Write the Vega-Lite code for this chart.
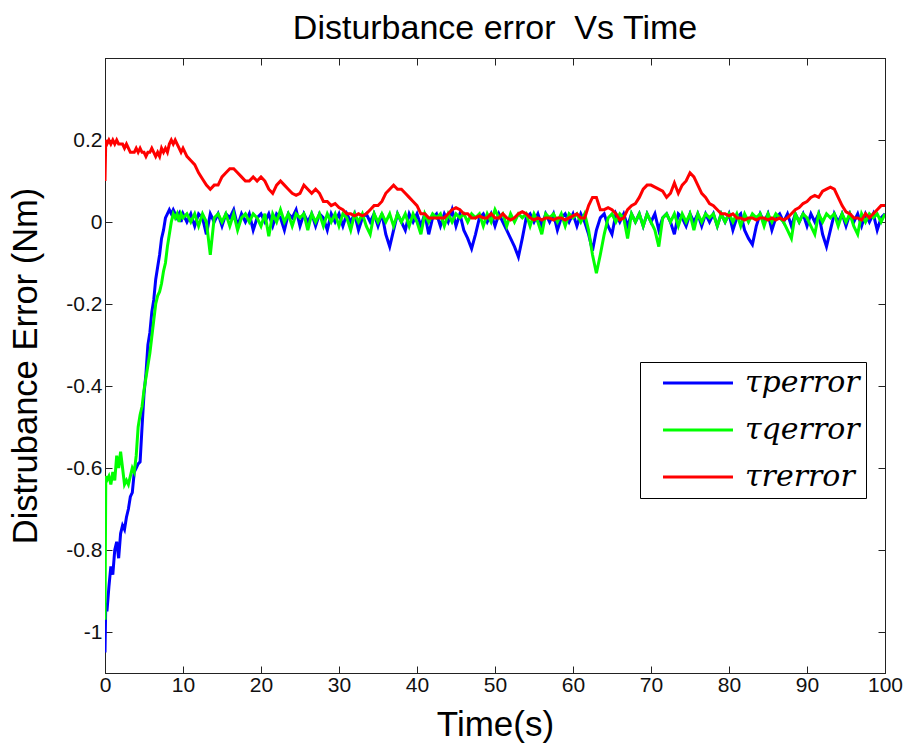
{
  "$schema": "https://vega.github.io/schema/vega-lite/v6.json",
  "width": 780,
  "height": 615,
  "autosize": {"type": "none"},
  "padding": {"left": 105, "top": 58, "right": 24, "bottom": 79},
  "background": "white",
  "title": {"text": "Disturbance error \u00a0Vs Time", "font": "Liberation Sans", "fontSize": 34, "fontWeight": "normal", "color": "black", "offset": 12},
  "config": {
    "view": {"stroke": "black", "strokeWidth": 1},
    "axis": {"grid": false, "domainColor": "#222", "tickColor": "#222", "labelColor": "#111", "labelFont": "Liberation Sans", "labelFontSize": 21, "titleFont": "Liberation Sans", "titleFontWeight": "normal", "titleColor": "black", "tickSize": -7, "domain": true}
  },
  "data": {"values": [
    {"t":0,"p":-1.05,"q":-0.97,"r":0.10},
    {"t":0.1,"p":-0.93,"q":-0.62,"r":0.20},
    {"t":0.25,"p":-0.95,"q":-0.63,"r":0.19},
    {"t":0.5,"p":-0.89,"q":-0.62,"r":0.20},
    {"t":0.75,"p":-0.84,"q":-0.64,"r":0.19},
    {"t":1.0,"p":-0.86,"q":-0.61,"r":0.20},
    {"t":1.25,"p":-0.80,"q":-0.63,"r":0.19},
    {"t":1.5,"p":-0.78,"q":-0.57,"r":0.20},
    {"t":1.75,"p":-0.82,"q":-0.60,"r":0.19},
    {"t":2.0,"p":-0.76,"q":-0.56,"r":0.19},
    {"t":2.25,"p":-0.74,"q":-0.60,"r":0.19},
    {"t":2.5,"p":-0.75,"q":-0.64,"r":0.18},
    {"t":2.75,"p":-0.72,"q":-0.63,"r":0.19},
    {"t":3.0,"p":-0.70,"q":-0.64,"r":0.18},
    {"t":3.25,"p":-0.67,"q":-0.62,"r":0.17},
    {"t":3.5,"p":-0.66,"q":-0.60,"r":0.17},
    {"t":3.75,"p":-0.61,"q":-0.61,"r":0.17},
    {"t":4.0,"p":-0.60,"q":-0.57,"r":0.18},
    {"t":4.25,"p":-0.59,"q":-0.50,"r":0.17},
    {"t":4.5,"p":-0.585,"q":-0.47,"r":0.18},
    {"t":4.75,"p":-0.50,"q":-0.45,"r":0.17},
    {"t":5.0,"p":-0.42,"q":-0.41,"r":0.17},
    {"t":5.25,"p":-0.37,"q":-0.38,"r":0.16},
    {"t":5.5,"p":-0.30,"q":-0.35,"r":0.17},
    {"t":5.75,"p":-0.27,"q":-0.32,"r":0.17},
    {"t":6.0,"p":-0.22,"q":-0.28,"r":0.18},
    {"t":6.25,"p":-0.19,"q":-0.24,"r":0.17},
    {"t":6.5,"p":-0.14,"q":-0.20,"r":0.16},
    {"t":6.75,"p":-0.11,"q":-0.18,"r":0.17},
    {"t":7.0,"p":-0.08,"q":-0.17,"r":0.16},
    {"t":7.25,"p":-0.04,"q":-0.15,"r":0.18},
    {"t":7.5,"p":-0.02,"q":-0.12,"r":0.17},
    {"t":7.75,"p":0.01,"q":-0.10,"r":0.18},
    {"t":8.0,"p":0.02,"q":-0.06,"r":0.17},
    {"t":8.25,"p":0.03,"q":-0.03,"r":0.19},
    {"t":8.5,"p":0.02,"q":0.00,"r":0.20},
    {"t":8.75,"p":0.03,"q":0.02,"r":0.19},
    {"t":9.0,"p":0.02,"q":0.01,"r":0.20},
    {"t":9.25,"p":0.01,"q":0.02,"r":0.19},
    {"t":9.5,"p":0.02,"q":0.00,"r":0.18},
    {"t":9.75,"p":0.00,"q":0.02,"r":0.17},
    {"t":10,"p":0.02,"q":0.01,"r":0.18},
    {"t":10.5,"p":0.00,"q":0.02,"r":0.16},
    {"t":11,"p":0.02,"q":0.00,"r":0.15},
    {"t":11.5,"p":-0.01,"q":0.02,"r":0.14},
    {"t":12,"p":0.02,"q":-0.01,"r":0.12},
    {"t":12.5,"p":0.01,"q":0.02,"r":0.105},
    {"t":13,"p":-0.03,"q":0.00,"r":0.09},
    {"t":13.5,"p":0.02,"q":-0.08,"r":0.08},
    {"t":14,"p":0.00,"q":0.01,"r":0.09},
    {"t":14.5,"p":0.02,"q":0.02,"r":0.09},
    {"t":15,"p":-0.01,"q":0.00,"r":0.11},
    {"t":15.5,"p":0.02,"q":0.02,"r":0.12},
    {"t":16,"p":0.01,"q":-0.01,"r":0.13},
    {"t":16.5,"p":0.03,"q":0.02,"r":0.13},
    {"t":17,"p":-0.01,"q":-0.02,"r":0.12},
    {"t":17.5,"p":0.02,"q":0.01,"r":0.11},
    {"t":18,"p":0.00,"q":0.02,"r":0.10},
    {"t":18.5,"p":0.02,"q":0.00,"r":0.10},
    {"t":19,"p":-0.02,"q":0.02,"r":0.11},
    {"t":19.5,"p":0.01,"q":0.01,"r":0.10},
    {"t":20,"p":0.02,"q":-0.01,"r":0.11},
    {"t":20.5,"p":0.00,"q":0.02,"r":0.10},
    {"t":21,"p":0.02,"q":-0.035,"r":0.08},
    {"t":21.5,"p":-0.01,"q":0.02,"r":0.07},
    {"t":22,"p":0.02,"q":0.00,"r":0.09},
    {"t":22.5,"p":0.01,"q":0.03,"r":0.10},
    {"t":23,"p":-0.02,"q":0.00,"r":0.09},
    {"t":23.5,"p":0.02,"q":0.02,"r":0.08},
    {"t":24,"p":0.01,"q":-0.01,"r":0.07},
    {"t":24.5,"p":0.03,"q":0.02,"r":0.065},
    {"t":25,"p":-0.01,"q":0.01,"r":0.07},
    {"t":25.5,"p":0.02,"q":0.02,"r":0.09},
    {"t":26,"p":0.00,"q":-0.02,"r":0.08},
    {"t":26.5,"p":0.02,"q":0.02,"r":0.07},
    {"t":27,"p":-0.01,"q":0.00,"r":0.08},
    {"t":27.5,"p":0.02,"q":0.02,"r":0.07},
    {"t":28,"p":0.01,"q":-0.01,"r":0.05},
    {"t":28.5,"p":-0.02,"q":0.02,"r":0.05},
    {"t":29,"p":0.02,"q":0.00,"r":0.04},
    {"t":29.5,"p":0.00,"q":0.02,"r":0.045},
    {"t":30,"p":0.02,"q":-0.01,"r":0.035},
    {"t":30.5,"p":-0.01,"q":0.02,"r":0.03},
    {"t":31,"p":0.02,"q":0.01,"r":0.02},
    {"t":31.5,"p":0.00,"q":-0.02,"r":0.02},
    {"t":32,"p":0.02,"q":0.02,"r":0.015},
    {"t":32.5,"p":-0.02,"q":0.00,"r":0.02},
    {"t":33,"p":0.01,"q":0.02,"r":0.015},
    {"t":33.5,"p":0.02,"q":-0.01,"r":0.02},
    {"t":34,"p":0.00,"q":-0.03,"r":0.03},
    {"t":34.5,"p":0.02,"q":0.02,"r":0.04},
    {"t":35,"p":-0.01,"q":0.00,"r":0.04},
    {"t":35.5,"p":0.02,"q":0.02,"r":0.05},
    {"t":36,"p":-0.03,"q":0.00,"r":0.07},
    {"t":36.5,"p":-0.06,"q":0.02,"r":0.08},
    {"t":37,"p":-0.02,"q":-0.01,"r":0.09},
    {"t":37.5,"p":0.02,"q":0.02,"r":0.08},
    {"t":38,"p":0.00,"q":0.00,"r":0.08},
    {"t":38.5,"p":-0.02,"q":0.02,"r":0.07},
    {"t":39,"p":0.02,"q":-0.01,"r":0.06},
    {"t":39.5,"p":0.00,"q":0.02,"r":0.05},
    {"t":40,"p":0.02,"q":0.00,"r":0.04},
    {"t":40.5,"p":-0.01,"q":-0.03,"r":0.02},
    {"t":41,"p":0.02,"q":0.02,"r":0.02},
    {"t":41.5,"p":-0.03,"q":0.00,"r":0.01},
    {"t":42,"p":0.01,"q":0.02,"r":0.01},
    {"t":42.5,"p":0.02,"q":0.01,"r":0.01},
    {"t":43,"p":-0.01,"q":0.02,"r":0.01},
    {"t":43.5,"p":0.02,"q":-0.01,"r":0.01},
    {"t":44,"p":0.00,"q":0.02,"r":0.02},
    {"t":44.5,"p":0.03,"q":0.00,"r":0.03},
    {"t":45,"p":-0.01,"q":0.02,"r":0.035},
    {"t":45.5,"p":0.02,"q":0.01,"r":0.03},
    {"t":46,"p":-0.02,"q":0.02,"r":0.02},
    {"t":46.5,"p":-0.04,"q":0.00,"r":0.02},
    {"t":47,"p":-0.065,"q":0.02,"r":0.01},
    {"t":47.5,"p":-0.03,"q":0.01,"r":0.01},
    {"t":48,"p":0.01,"q":0.02,"r":0.015},
    {"t":48.5,"p":0.02,"q":-0.01,"r":0.01},
    {"t":49,"p":0.00,"q":0.02,"r":0.01},
    {"t":49.5,"p":0.02,"q":0.00,"r":0.02},
    {"t":50,"p":-0.01,"q":0.03,"r":0.01},
    {"t":50.5,"p":0.02,"q":0.01,"r":0.01},
    {"t":51,"p":0.00,"q":0.02,"r":0.02},
    {"t":51.5,"p":-0.02,"q":-0.01,"r":0.01},
    {"t":52,"p":-0.04,"q":0.02,"r":0.005},
    {"t":52.5,"p":-0.06,"q":0.00,"r":0.01},
    {"t":53,"p":-0.085,"q":0.02,"r":0.02},
    {"t":53.5,"p":-0.04,"q":0.01,"r":0.025},
    {"t":54,"p":0.01,"q":0.02,"r":0.02},
    {"t":54.5,"p":0.02,"q":-0.01,"r":0.01},
    {"t":55,"p":0.00,"q":0.02,"r":0.005},
    {"t":55.5,"p":0.02,"q":0.00,"r":0.01},
    {"t":56,"p":-0.01,"q":-0.03,"r":0.005},
    {"t":56.5,"p":0.02,"q":0.02,"r":0.01},
    {"t":57,"p":0.00,"q":0.01,"r":0.01},
    {"t":57.5,"p":0.02,"q":0.02,"r":0.005},
    {"t":58,"p":-0.02,"q":0.00,"r":0.01},
    {"t":58.5,"p":0.01,"q":0.02,"r":0.01},
    {"t":59,"p":0.02,"q":-0.01,"r":0.005},
    {"t":59.5,"p":0.00,"q":0.02,"r":0.01},
    {"t":60,"p":0.02,"q":0.01,"r":0.015},
    {"t":60.5,"p":-0.01,"q":0.02,"r":0.02},
    {"t":61,"p":0.02,"q":0.00,"r":0.01},
    {"t":61.5,"p":0.00,"q":0.02,"r":0.01},
    {"t":62,"p":-0.03,"q":-0.02,"r":0.04},
    {"t":62.5,"p":-0.07,"q":-0.08,"r":0.06},
    {"t":63,"p":-0.02,"q":-0.125,"r":0.06},
    {"t":63.5,"p":0.01,"q":-0.08,"r":0.03},
    {"t":64,"p":0.02,"q":-0.03,"r":0.03},
    {"t":64.5,"p":-0.01,"q":0.01,"r":0.035},
    {"t":65,"p":-0.03,"q":0.02,"r":0.03},
    {"t":65.5,"p":0.02,"q":0.00,"r":0.02},
    {"t":66,"p":0.00,"q":0.02,"r":0.005},
    {"t":66.5,"p":0.02,"q":0.01,"r":0.01},
    {"t":67,"p":-0.01,"q":-0.04,"r":0.03},
    {"t":67.5,"p":0.02,"q":0.02,"r":0.04},
    {"t":68,"p":0.00,"q":0.00,"r":0.045},
    {"t":68.5,"p":0.02,"q":0.02,"r":0.06},
    {"t":69,"p":-0.01,"q":-0.01,"r":0.08},
    {"t":69.5,"p":0.02,"q":0.02,"r":0.09},
    {"t":70,"p":0.00,"q":0.00,"r":0.09},
    {"t":70.5,"p":0.02,"q":-0.02,"r":0.085},
    {"t":71,"p":-0.02,"q":-0.06,"r":0.08},
    {"t":71.5,"p":0.01,"q":0.01,"r":0.075},
    {"t":72,"p":0.02,"q":0.02,"r":0.06},
    {"t":72.5,"p":0.00,"q":0.00,"r":0.07},
    {"t":73,"p":-0.03,"q":0.02,"r":0.095},
    {"t":73.5,"p":0.02,"q":-0.01,"r":0.07},
    {"t":74,"p":0.01,"q":0.02,"r":0.09},
    {"t":74.5,"p":-0.01,"q":0.00,"r":0.10},
    {"t":75,"p":0.02,"q":0.02,"r":0.12},
    {"t":75.5,"p":0.00,"q":-0.02,"r":0.11},
    {"t":76,"p":0.02,"q":0.02,"r":0.09},
    {"t":76.5,"p":-0.01,"q":0.00,"r":0.07},
    {"t":77,"p":0.02,"q":0.02,"r":0.06},
    {"t":77.5,"p":0.00,"q":0.01,"r":0.045},
    {"t":78,"p":0.02,"q":0.02,"r":0.04},
    {"t":78.5,"p":-0.01,"q":-0.01,"r":0.03},
    {"t":79,"p":0.02,"q":0.02,"r":0.02},
    {"t":79.5,"p":0.00,"q":0.00,"r":0.02},
    {"t":80,"p":0.02,"q":0.02,"r":0.015},
    {"t":80.5,"p":-0.02,"q":0.00,"r":0.02},
    {"t":81,"p":0.01,"q":0.02,"r":0.01},
    {"t":81.5,"p":0.02,"q":-0.01,"r":0.01},
    {"t":82,"p":-0.02,"q":0.02,"r":0.005},
    {"t":82.5,"p":-0.04,"q":0.00,"r":0.01},
    {"t":83,"p":-0.055,"q":0.02,"r":0.01},
    {"t":83.5,"p":-0.01,"q":0.01,"r":0.005},
    {"t":84,"p":0.02,"q":0.02,"r":0.01},
    {"t":84.5,"p":0.00,"q":-0.01,"r":0.01},
    {"t":85,"p":0.02,"q":0.02,"r":0.005},
    {"t":85.5,"p":-0.02,"q":0.00,"r":0.01},
    {"t":86,"p":0.01,"q":0.02,"r":0.005},
    {"t":86.5,"p":0.02,"q":0.01,"r":0.01},
    {"t":87,"p":0.00,"q":0.00,"r":0.005},
    {"t":87.5,"p":0.02,"q":-0.02,"r":0.01},
    {"t":88,"p":-0.01,"q":-0.04,"r":0.02},
    {"t":88.5,"p":0.02,"q":0.02,"r":0.03},
    {"t":89,"p":0.00,"q":0.00,"r":0.035},
    {"t":89.5,"p":0.02,"q":0.02,"r":0.045},
    {"t":90,"p":-0.01,"q":0.01,"r":0.05},
    {"t":90.5,"p":0.02,"q":-0.01,"r":0.06},
    {"t":91,"p":0.00,"q":-0.03,"r":0.065},
    {"t":91.5,"p":0.02,"q":0.02,"r":0.06},
    {"t":92,"p":-0.03,"q":0.00,"r":0.075},
    {"t":92.5,"p":-0.06,"q":0.02,"r":0.08},
    {"t":93,"p":-0.02,"q":0.01,"r":0.085},
    {"t":93.5,"p":0.02,"q":0.02,"r":0.08},
    {"t":94,"p":0.00,"q":-0.01,"r":0.06},
    {"t":94.5,"p":0.02,"q":0.02,"r":0.04},
    {"t":95,"p":-0.01,"q":0.00,"r":0.025},
    {"t":95.5,"p":0.02,"q":0.02,"r":0.02},
    {"t":96,"p":0.00,"q":-0.01,"r":0.01},
    {"t":96.5,"p":0.02,"q":-0.03,"r":0.01},
    {"t":97,"p":-0.01,"q":0.02,"r":0.005},
    {"t":97.5,"p":0.02,"q":0.00,"r":0.02},
    {"t":98,"p":0.00,"q":0.02,"r":0.01},
    {"t":98.5,"p":0.02,"q":0.01,"r":0.02},
    {"t":99,"p":-0.02,"q":0.02,"r":0.03},
    {"t":99.5,"p":0.01,"q":0.00,"r":0.04},
    {"t":100,"p":0.02,"q":0.02,"r":0.04}
  ]},
  "transform": [{"fold": ["p", "q", "r"], "as": ["series", "value"]}],
  "layer": [
    {
      "mark": {"type": "line", "strokeWidth": 3, "clip": true},
      "encoding": {
        "x": {"field": "t", "type": "quantitative", "scale": {"domain": [0, 100], "nice": false, "zero": false},
              "axis": {"orient": "bottom", "values": [0,10,20,30,40,50,60,70,80,90,100], "title": "Time(s)", "titleFontSize": 35, "labelFontSize": 21, "labelPadding": 8, "titlePadding": 12, "labelFlush": false}},
        "y": {"field": "value", "type": "quantitative", "scale": {"domain": [-1.1, 0.4], "nice": false, "zero": false},
              "axis": {"orient": "left", "values": [-1,-0.8,-0.6,-0.4,-0.2,0,0.2], "labelExpr": "datum.value + ''", "title": "Distrubance Error (Nm)", "titleFontSize": 34.5, "labelFontSize": 21, "labelPadding": 10, "titlePadding": 22}},
        "color": {"field": "series", "type": "nominal",
                  "scale": {"domain": ["p", "q", "r"], "range": ["#0000ff", "#00ff00", "#ff0000"]},
                  "legend": {"orient": "none", "legendX": 535, "legendY": 304, "title": null,
                             "labelExpr": "datum.value == 'p' ? 'τperror\u00a0\u00a0\u00a0' : datum.value == 'q' ? 'τqerror\u00a0\u00a0\u00a0' : 'τrerror\u00a0\u00a0\u00a0'",
                             "symbolType": "M-4,0H4", "symbolSize": 306, "symbolStrokeWidth": 3, "symbolOffset": 37,
                             "labelFont": "DejaVu Serif", "labelFontStyle": "italic", "labelFontSize": 30, "labelColor": "black",
                             "strokeColor": "black", "fillColor": "white", "padding": 6, "rowPadding": 17, "labelOffset": 32}}
      }
    },
    {
      "mark": {"type": "line", "opacity": 0, "strokeWidth": 0},
      "encoding": {
        "x": {"field": "t", "type": "quantitative", "scale": {"domain": [0, 100], "nice": false, "zero": false},
              "axis": {"orient": "top", "values": [0,10,20,30,40,50,60,70,80,90,100], "labels": false, "title": null}},
        "y": {"field": "value", "type": "quantitative", "scale": {"domain": [-1.1, 0.4], "nice": false, "zero": false},
              "axis": {"orient": "right", "values": [-1,-0.8,-0.6,-0.4,-0.2,0,0.2], "labels": false, "title": null}},
        "detail": {"field": "series", "type": "nominal"}
      }
    }
  ],
  "resolve": {"scale": {"x": "independent", "y": "independent"}}
}
